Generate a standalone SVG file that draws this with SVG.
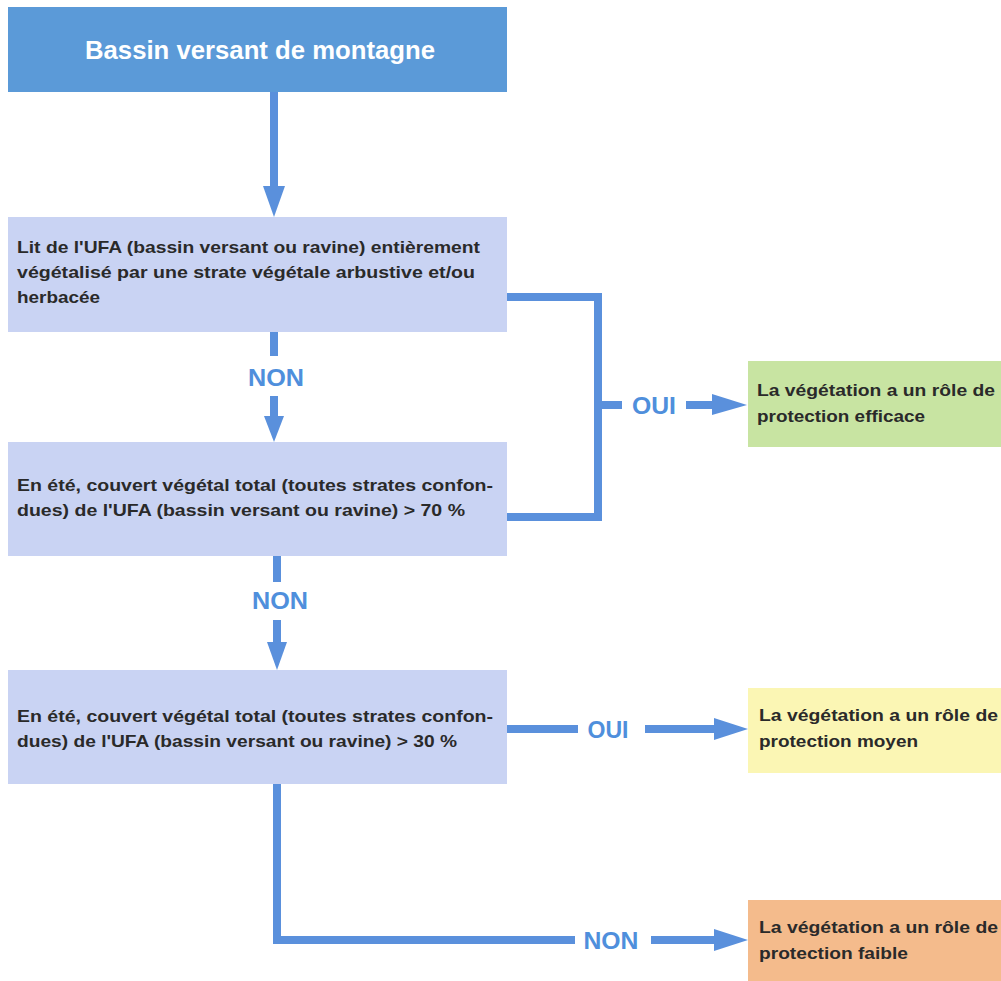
<svg xmlns="http://www.w3.org/2000/svg" width="1001" height="981" viewBox="0 0 1001 981">
<defs>
<style>
.box{fill:#c9d3f3;}
.t{font-family:"Liberation Sans",Arial,sans-serif;font-size:17px;font-weight:bold;fill:#2a2a2a;}
.lab{font-family:"Liberation Sans",Arial,sans-serif;font-size:23px;font-weight:bold;fill:#4f8fdc;}
.ln{stroke:#5a90dc;stroke-width:8;fill:none;}
.hd{fill:#5a90dc;}
</style>
</defs>
<rect width="1001" height="981" fill="#ffffff"/>
<g id="connectors">
  <line class="ln" x1="274" y1="92" x2="274" y2="188"/>
  <polygon class="hd" points="263,186 285,186 274,217"/>
  <line class="ln" x1="274" y1="332" x2="274" y2="356"/>
  <line class="ln" x1="274" y1="396" x2="274" y2="418"/>
  <polygon class="hd" points="264,416 284,416 274,442"/>
  <line class="ln" x1="277" y1="556" x2="277" y2="582"/>
  <line class="ln" x1="277" y1="620" x2="277" y2="644"/>
  <polygon class="hd" points="267,642 287,642 277,670"/>
  <polyline class="ln" points="507,297 598,297 598,517 507,517"/>
  <line class="ln" x1="598" y1="405" x2="622" y2="405"/>
  <line class="ln" x1="686" y1="405" x2="714" y2="405"/>
  <polygon class="hd" points="712,394 747,405 712,415"/>
  <line class="ln" x1="507" y1="729" x2="578" y2="729"/>
  <line class="ln" x1="645" y1="729" x2="716" y2="729"/>
  <polygon class="hd" points="714,718 748,729 714,740"/>
  <polyline class="ln" points="277,784 277,940 575,940"/>
  <line class="ln" x1="651" y1="940" x2="716" y2="940"/>
  <polygon class="hd" points="714,929 748,940 714,951"/>
  <text class="lab" x="276" y="386" text-anchor="middle" textLength="56" lengthAdjust="spacingAndGlyphs">NON</text>
  <text class="lab" x="280" y="609" text-anchor="middle" textLength="56" lengthAdjust="spacingAndGlyphs">NON</text>
  <text class="lab" x="654" y="414" text-anchor="middle" textLength="44" lengthAdjust="spacingAndGlyphs">OUI</text>
  <text class="lab" x="608" y="738" text-anchor="middle" textLength="41" lengthAdjust="spacingAndGlyphs">OUI</text>
  <text class="lab" x="611" y="949" text-anchor="middle" textLength="55" lengthAdjust="spacingAndGlyphs">NON</text>
</g>
<g id="start">
  <rect x="8" y="7" width="499" height="85" fill="#5b9ad8"/>
  <text x="260" y="59" text-anchor="middle" font-family="'Liberation Sans',Arial,sans-serif" font-size="26" font-weight="bold" fill="#ffffff" textLength="350" lengthAdjust="spacingAndGlyphs">Bassin versant de montagne</text>
</g>
<g id="q1">
  <rect class="box" x="8" y="217" width="499" height="115"/>
  <text class="t" x="17" y="253" textLength="463" lengthAdjust="spacingAndGlyphs">Lit de l'UFA  (bassin versant ou ravine) entièrement</text>
  <text class="t" x="17" y="278" textLength="458" lengthAdjust="spacingAndGlyphs">végétalisé par une strate végétale arbustive et/ou</text>
  <text class="t" x="17" y="303" textLength="83" lengthAdjust="spacingAndGlyphs">herbacée</text>
</g>
<g id="q2">
  <rect class="box" x="8" y="442" width="499" height="114"/>
  <text class="t" x="17" y="491" textLength="476" lengthAdjust="spacingAndGlyphs">En été, couvert végétal total (toutes strates confon-</text>
  <text class="t" x="17" y="516" textLength="448" lengthAdjust="spacingAndGlyphs">dues) de l'UFA  (bassin versant ou ravine)  &gt; 70 %</text>
</g>
<g id="q3">
  <rect class="box" x="8" y="670" width="499" height="114"/>
  <text class="t" x="17" y="722" textLength="476" lengthAdjust="spacingAndGlyphs">En été, couvert végétal total (toutes strates confon-</text>
  <text class="t" x="17" y="747" textLength="440" lengthAdjust="spacingAndGlyphs">dues) de l'UFA  (bassin versant ou ravine) &gt; 30 %</text>
</g>
<g id="r1">
  <rect x="748" y="361" width="253" height="86" fill="#c8e4a2"/>
  <text class="t" x="757" y="396" textLength="238" lengthAdjust="spacingAndGlyphs">La végétation a un rôle de</text>
  <text class="t" x="757" y="422" textLength="168" lengthAdjust="spacingAndGlyphs">protection efficace</text>
</g>
<g id="r2">
  <rect x="748" y="688" width="253" height="85" fill="#fbf6b4"/>
  <text class="t" x="759" y="721" textLength="239" lengthAdjust="spacingAndGlyphs">La végétation a un rôle de</text>
  <text class="t" x="759" y="747" textLength="159" lengthAdjust="spacingAndGlyphs">protection moyen</text>
</g>
<g id="r3">
  <rect x="748" y="900" width="253" height="81" fill="#f4bb8c"/>
  <text class="t" x="759" y="933" textLength="239" lengthAdjust="spacingAndGlyphs">La végétation a un rôle de</text>
  <text class="t" x="759" y="959" textLength="149" lengthAdjust="spacingAndGlyphs">protection faible</text>
</g>
</svg>
